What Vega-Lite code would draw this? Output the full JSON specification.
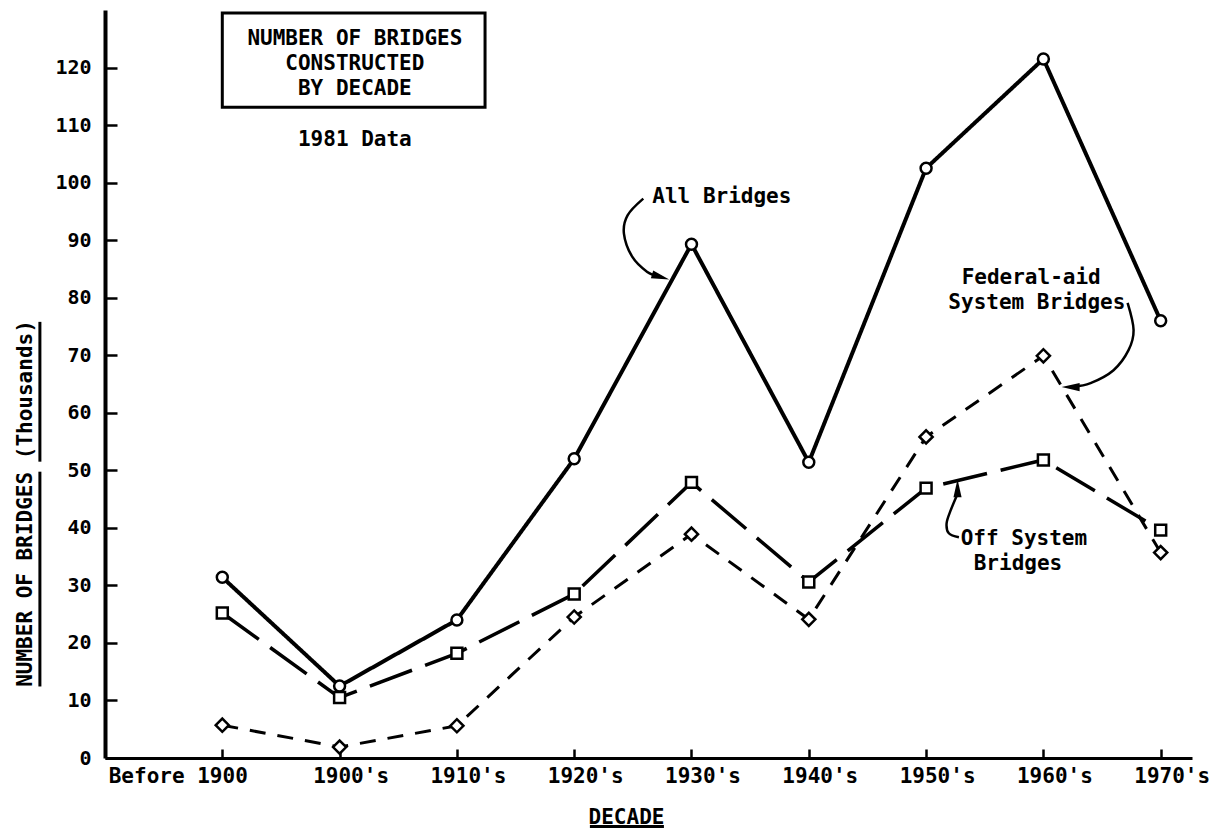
{
  "$schema": "https://vega.github.io/schema/vega-lite/v6.json",
  "width": 1087,
  "height": 748,
  "autosize": "none",
  "padding": {"left": 105, "top": 10, "right": 19, "bottom": 72},
  "background": "white",
  "config": {"view": {"stroke": null}, "font": "DejaVu Sans Mono"},
  "resolve": {"scale": {"shape": "independent"}},
  "datasets": {
    "series": [
      {"decade": "Before 1900", "i": 0, "series": "All Bridges", "v": 31.4},
      {"decade": "1900's", "i": 1, "series": "All Bridges", "v": 12.5},
      {"decade": "1910's", "i": 2, "series": "All Bridges", "v": 24.0},
      {"decade": "1920's", "i": 3, "series": "All Bridges", "v": 52.0},
      {"decade": "1930's", "i": 4, "series": "All Bridges", "v": 89.3},
      {"decade": "1940's", "i": 5, "series": "All Bridges", "v": 51.4},
      {"decade": "1950's", "i": 6, "series": "All Bridges", "v": 102.5},
      {"decade": "1960's", "i": 7, "series": "All Bridges", "v": 121.5},
      {"decade": "1970's", "i": 8, "series": "All Bridges", "v": 76.0},
      {"decade": "Before 1900", "i": 0, "series": "Off System Bridges", "v": 25.2},
      {"decade": "1900's", "i": 1, "series": "Off System Bridges", "v": 10.5},
      {"decade": "1910's", "i": 2, "series": "Off System Bridges", "v": 18.2},
      {"decade": "1920's", "i": 3, "series": "Off System Bridges", "v": 28.5},
      {"decade": "1930's", "i": 4, "series": "Off System Bridges", "v": 47.9},
      {"decade": "1940's", "i": 5, "series": "Off System Bridges", "v": 30.6},
      {"decade": "1950's", "i": 6, "series": "Off System Bridges", "v": 46.9},
      {"decade": "1960's", "i": 7, "series": "Off System Bridges", "v": 51.8},
      {"decade": "1970's", "i": 8, "series": "Off System Bridges", "v": 39.6},
      {"decade": "Before 1900", "i": 0, "series": "Federal-aid System Bridges", "v": 5.7},
      {"decade": "1900's", "i": 1, "series": "Federal-aid System Bridges", "v": 1.9},
      {"decade": "1910's", "i": 2, "series": "Federal-aid System Bridges", "v": 5.6},
      {"decade": "1920's", "i": 3, "series": "Federal-aid System Bridges", "v": 24.5},
      {"decade": "1930's", "i": 4, "series": "Federal-aid System Bridges", "v": 38.9},
      {"decade": "1940's", "i": 5, "series": "Federal-aid System Bridges", "v": 24.1},
      {"decade": "1950's", "i": 6, "series": "Federal-aid System Bridges", "v": 55.8},
      {"decade": "1960's", "i": 7, "series": "Federal-aid System Bridges", "v": 69.9},
      {"decade": "1970's", "i": 8, "series": "Federal-aid System Bridges", "v": 35.7}
    ],
    "box": [
      {"i": 0, "i2": 2.24, "v": 129.5, "v2": 113.1}
    ],
    "boxtext": [
      {"t": "NUMBER OF BRIDGES", "i": 1.13, "v": 123.84},
      {"t": "CONSTRUCTED", "i": 1.13, "v": 119.5},
      {"t": "BY DECADE", "i": 1.13, "v": 115.2},
      {"t": "1981 Data", "i": 1.13, "v": 106.4}
    ],
    "labels": [
      {"t": "All Bridges", "i": 3.666, "v": 96.46},
      {"t": "Federal-aid", "i": 6.303, "v": 82.3},
      {"t": "System Bridges", "i": 6.19, "v": 78.1},
      {"t": "Off System", "i": 6.295, "v": 37.0},
      {"t": "Bridges", "i": 6.406, "v": 32.7}
    ],
    "arrows": [
      {"a": "all", "k": 1, "i": 3.589, "v": 97.22},
      {"a": "all", "k": 2, "i": 3.455, "v": 94.32},
      {"a": "all", "k": 3, "i": 3.424, "v": 91.15},
      {"a": "all", "k": 4, "i": 3.496, "v": 87.08},
      {"a": "all", "k": 5, "i": 3.623, "v": 84.48},
      {"a": "all", "k": 6, "i": 3.72, "v": 83.75},
      {"a": "fed", "k": 1, "i": 7.718, "v": 79.08},
      {"a": "fed", "k": 2, "i": 7.769, "v": 74.36},
      {"a": "fed", "k": 3, "i": 7.726, "v": 70.88},
      {"a": "fed", "k": 4, "i": 7.598, "v": 67.4},
      {"a": "fed", "k": 5, "i": 7.402, "v": 65.14},
      {"a": "fed", "k": 6, "i": 7.26, "v": 64.55},
      {"a": "off", "k": 1, "i": 6.268, "v": 45.9},
      {"a": "off", "k": 2, "i": 6.21, "v": 43.07},
      {"a": "off", "k": 3, "i": 6.175, "v": 40.8},
      {"a": "off", "k": 4, "i": 6.194, "v": 39.06},
      {"a": "off", "k": 5, "i": 6.28, "v": 38.37}
    ],
    "heads": [
      {"a": "all", "dir": "se", "i": 3.737, "v": 83.6},
      {"a": "fed", "dir": "w", "i": 7.232, "v": 64.46},
      {"a": "off", "dir": "n", "i": 6.268, "v": 46.9}
    ],
    "underlines": [
      {"i": 3.134, "i2": 3.765, "v": -11.9, "v2": -11.9},
      {"i": -1.555, "i2": -1.555, "v": 12.43, "v2": 49.76},
      {"i": -1.555, "i2": -1.555, "v": 51.5, "v2": 75.8}
    ]
  },
  "encoding": {
    "x": {
      "field": "i",
      "type": "quantitative",
      "scale": {"domain": [-1, 8.267], "nice": false, "zero": false},
      "axis": {
        "values": [0, 1, 2, 3, 4, 5, 6, 7, 8],
        "labelExpr": "[\"Before 1900\",\"1900's\",\"1910's\",\"1920's\",\"1930's\",\"1940's\",\"1950's\",\"1960's\",\"1970's\"][datum.value]",
        "title": "DECADE",
        "grid": false,
        "tickSize": -9,
        "tickWidth": 2.5,
        "tickColor": "black",
        "domainColor": "black",
        "domainWidth": 3,
        "labelFont": "DejaVu Sans Mono",
        "labelFontSize": 21,
        "labelFontWeight": "bold",
        "labelColor": "black",
        "labelPadding": 16,
        "labelAlign": {"condition": {"test": "datum.value == 0", "value": "right"}, "value": "center"},
        "labelOffset": {"condition": {"test": "datum.value == 0", "value": 25}, "value": 11},
        "labelFlush": false,
        "labelOverlap": false,
        "labelBound": false,
        "titleFont": "DejaVu Sans Mono",
        "titleFontSize": 21,
        "titleFontWeight": "bold",
        "titleColor": "black",
        "titleX": 521,
        "titleY": 65,
        "titleBaseline": "alphabetic",
        "titleAlign": "center"
      }
    },
    "y": {
      "field": "v",
      "type": "quantitative",
      "scale": {"domain": [0, 130], "nice": false, "zero": true},
      "axis": {
        "values": [0, 10, 20, 30, 40, 50, 60, 70, 80, 90, 100, 110, 120],
        "title": "NUMBER OF BRIDGES (Thousands)",
        "grid": false,
        "tickSize": -12,
        "tickWidth": 2.5,
        "tickColor": "black",
        "domainColor": "black",
        "domainWidth": 4,
        "labelFont": "DejaVu Sans Mono",
        "labelFontSize": 20,
        "labelFontWeight": "bold",
        "labelColor": "black",
        "labelPadding": 26,
        "labelFlush": false,
        "labelOverlap": false,
        "titleFont": "DejaVu Sans Mono",
        "titleFontSize": 21,
        "titleFontWeight": "bold",
        "titleColor": "black",
        "titleAngle": -90,
        "titleX": -74,
        "titleY": 493,
        "titleBaseline": "alphabetic",
        "titleAlign": "center"
      }
    }
  },
  "layer": [
    {
      "data": {"name": "series"},
      "mark": {"type": "line", "color": "black", "strokeCap": "butt"},
      "encoding": {
        "detail": {"field": "series"},
        "strokeDash": {
          "field": "series",
          "type": "nominal",
          "scale": {"domain": ["All Bridges", "Off System Bridges", "Federal-aid System Bridges"], "range": [[1, 0], [45, 14], [16, 12]]},
          "legend": null
        },
        "strokeWidth": {
          "field": "series",
          "type": "ordinal",
          "scale": {"domain": ["All Bridges", "Off System Bridges", "Federal-aid System Bridges"], "range": [4, 3, 2.5]},
          "legend": null
        }
      }
    },
    {
      "data": {"name": "series"},
      "mark": {"type": "point", "filled": true, "fill": "white", "stroke": "black", "strokeWidth": 2.5, "opacity": 1, "size": 120},
      "encoding": {
        "shape": {
          "field": "series",
          "type": "nominal",
          "scale": {"domain": ["All Bridges", "Off System Bridges", "Federal-aid System Bridges"], "range": ["circle", "square", "M-1.2,0L0,-1.2L1.2,0L0,1.2Z"]},
          "legend": null
        }
      }
    },
    {
      "data": {"name": "box"},
      "mark": {"type": "rect", "fill": "white", "fillOpacity": 0, "stroke": "black", "strokeWidth": 3},
      "encoding": {"x2": {"field": "i2"}, "y2": {"field": "v2"}}
    },
    {
      "data": {"name": "boxtext"},
      "mark": {"type": "text", "align": "center", "baseline": "alphabetic", "font": "DejaVu Sans Mono", "fontSize": 21, "fontWeight": "bold", "color": "black"},
      "encoding": {"text": {"field": "t"}}
    },
    {
      "data": {"name": "labels"},
      "mark": {"type": "text", "align": "left", "baseline": "alphabetic", "font": "DejaVu Sans Mono", "fontSize": 21, "fontWeight": "bold", "color": "black"},
      "encoding": {"text": {"field": "t"}}
    },
    {
      "data": {"name": "arrows"},
      "mark": {"type": "line", "color": "black", "strokeWidth": 2.5, "interpolate": "cardinal"},
      "encoding": {"detail": {"field": "a"}, "order": {"field": "k", "type": "quantitative"}}
    },
    {
      "data": {"name": "heads"},
      "mark": {"type": "point", "filled": true, "color": "black", "opacity": 1, "size": 324},
      "encoding": {
        "shape": {
          "field": "dir",
          "type": "nominal",
          "scale": {"domain": ["se", "w", "n"], "range": ["M-0.825,-0.722L0.956,0.292L-1.087,0.138Z", "M1,-0.45L-1,0L1,0.45Z", "M-0.45,1L0,-1L0.45,1Z"]},
          "legend": null
        }
      }
    },
    {
      "data": {"name": "underlines"},
      "mark": {"type": "rule", "color": "black", "strokeWidth": 3},
      "encoding": {"x2": {"field": "i2"}, "y2": {"field": "v2"}}
    }
  ]
}
